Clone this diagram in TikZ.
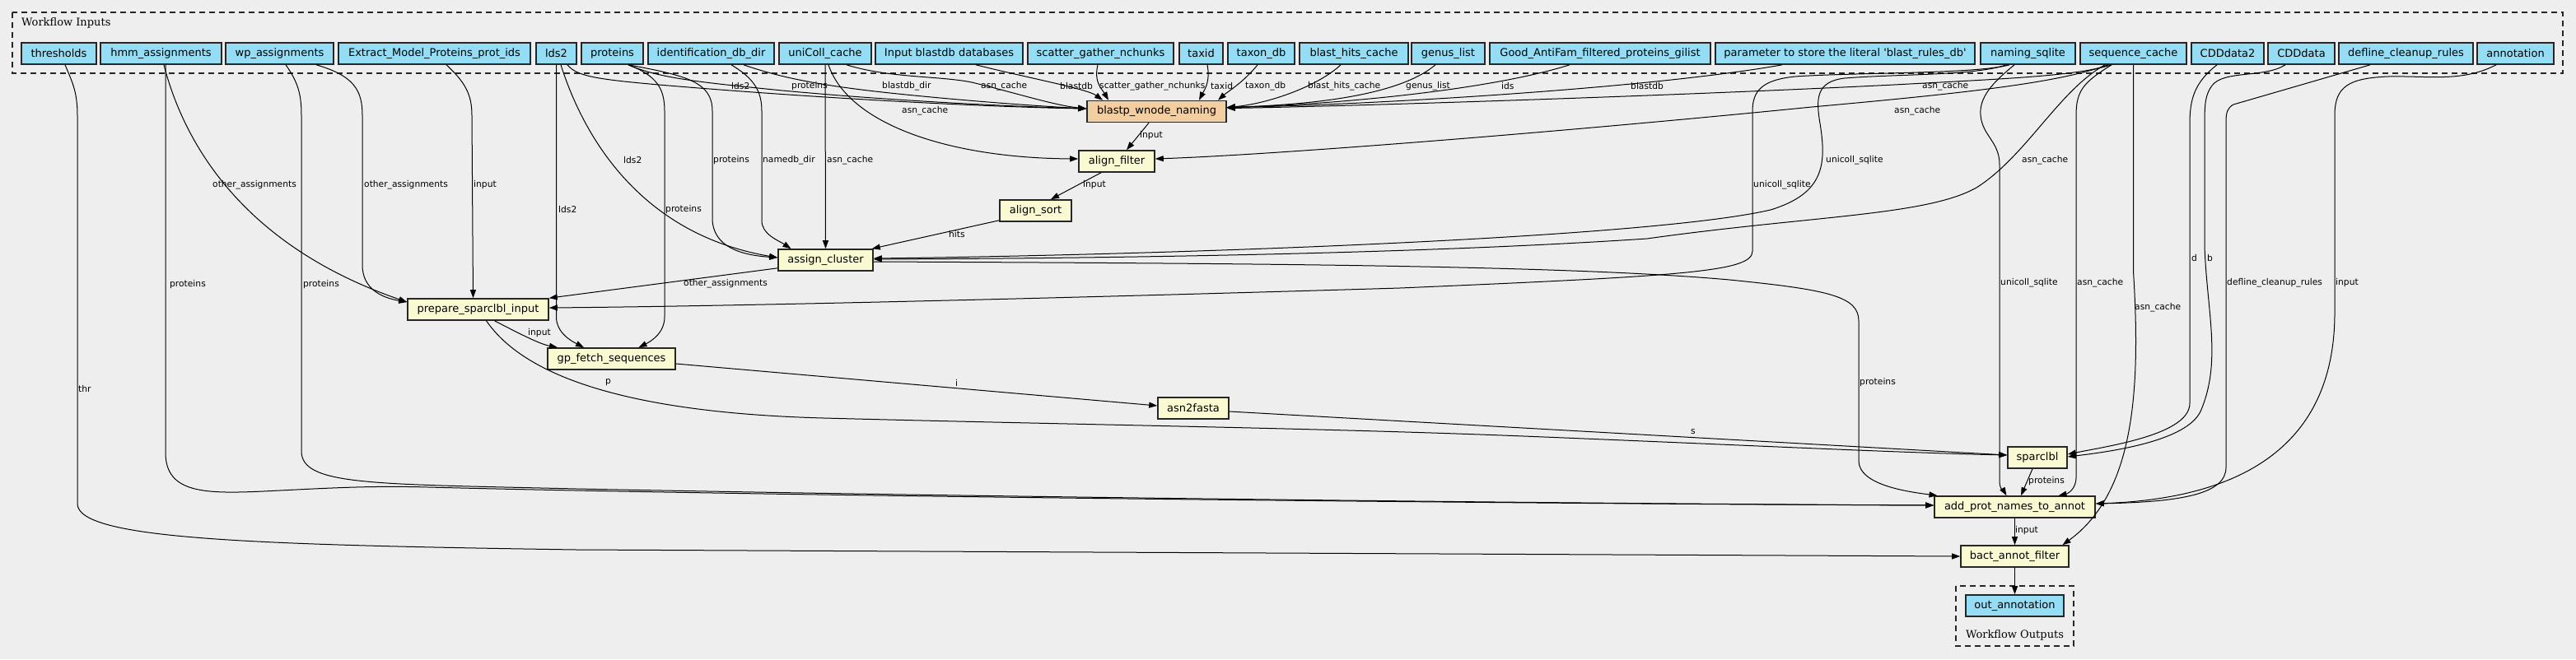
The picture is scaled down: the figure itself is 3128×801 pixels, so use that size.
\documentclass[tikz,border=0pt]{standalone}
\usepackage{fontspec}
\usetikzlibrary{arrows.meta}
\newfontfamily\nodefont{DejaVu Sans}
\newfontfamily\clfont{DejaVu Serif}
\definecolor{bgc}{HTML}{EEEEEE}
\definecolor{inpc}{HTML}{94DDF4}
\definecolor{stepc}{HTML}{FAFAD2}
\definecolor{subc}{HTML}{F3CEA1}
\tikzset{
 box/.style={draw=black!85, line width=1.6pt, minimum height=26pt, inner xsep=0pt, inner ysep=0pt, font=\nodefont\fontsize{13}{15}\selectfont, text=black},
 inp/.style={box, fill=inpc},
 stepbox/.style={box, fill=stepc},
 subbox/.style={box, fill=subc},
 edge/.style={line width=1pt, -{Triangle[length=10pt,width=7pt]}},
 lab/.style={anchor=west, inner sep=0pt, font=\nodefont\fontsize{10.7}{12}\selectfont},
 cluster/.style={draw=black!85, line width=1.3pt, dash pattern=on 7pt off 5pt},
 cltext/.style={font=\clfont\fontsize{13}{15}\selectfont, inner sep=0pt}
}
\begin{document}
\begin{tikzpicture}[x=1pt,y=-1pt]
\fill[bgc] (0,0) rectangle (3128,801);
\useasboundingbox (0,0) rectangle (3128,801);
% clusters
\draw[cluster] (15,15) rectangle (3112,89);
\node[cltext, anchor=west] (incl) at (26,28) {Workflow Inputs};
\draw[cluster] (2375,712) rectangle (2518,785);
\node[cltext] (outcl) at (2446.5,772) {Workflow Outputs};
% inputs
\node[inp, minimum width=91pt] (thresholds) at (71.5,65) {thresholds};
\node[inp, minimum width=147pt] (hmm) at (195.5,65) {hmm\_assignments};
\node[inp, minimum width=131pt] (wp) at (339.5,65) {wp\_assignments};
\node[inp, minimum width=233pt] (extract) at (527.5,65) {Extract\_Model\_Proteins\_prot\_ids};
\node[inp, minimum width=49pt] (lds2) at (675.5,65) {lds2};
\node[inp, minimum width=75pt] (proteins) at (743.5,65) {proteins};
\node[inp, minimum width=153pt] (ident) at (863.5,65) {identification\_db\_dir};
\node[inp, minimum width=112pt] (unicoll) at (1002,65) {uniColl\_cache};
\node[inp, minimum width=179pt] (inblast) at (1152.5,65) {Input blastdb databases};
\node[inp, minimum width=177pt] (scatter) at (1336.5,65) {scatter\_gather\_nchunks};
\node[inp, minimum width=53pt] (taxid) at (1458.5,65) {taxid};
\node[inp, minimum width=81pt] (taxondb) at (1531.5,65) {taxon\_db};
\node[inp, minimum width=132pt] (bhc) at (1644,65) {blast\_hits\_cache};
\node[inp, minimum width=89pt] (genus) at (1758.5,65) {genus\_list};
\node[inp, minimum width=268pt] (good) at (1943,65) {Good\_AntiFam\_filtered\_proteins\_gilist};
\node[inp, minimum width=315pt] (param) at (2240.5,65) {parameter to store the literal \textquotesingle blast\_rules\_db\textquotesingle};
\node[inp, minimum width=115pt] (naming) at (2462.5,65) {naming\_sqlite};
\node[inp, minimum width=129pt] (seq) at (2590.5,65) {sequence\_cache};
\node[inp, minimum width=88pt] (cdd2) at (2705,65) {CDDdata2};
\node[inp, minimum width=81pt] (cdd) at (2794.5,65) {CDDdata};
\node[inp, minimum width=163pt] (defline) at (2921.5,65) {defline\_cleanup\_rules};
\node[inp, minimum width=93pt] (annot) at (3054.5,65) {annotation};
% steps
\node[subbox, minimum width=169pt] (blastp) at (1404.5,135.5) {blastp\_wnode\_naming};
\node[stepbox, minimum width=92pt] (alignf) at (1356,196) {align\_filter};
\node[stepbox, minimum width=87pt] (aligns) at (1257.5,256) {align\_sort};
\node[stepbox, minimum width=115pt] (assign) at (1002.5,316) {assign\_cluster};
\node[stepbox, minimum width=171pt] (prepare) at (580.5,376) {prepare\_sparclbl\_input};
\node[stepbox, minimum width=155pt] (gp) at (742.5,436) {gp\_fetch\_sequences};
\node[stepbox, minimum width=86pt] (asn) at (1449,496) {asn2fasta};
\node[stepbox, minimum width=72pt] (sparclbl) at (2474,556) {sparclbl};
\node[stepbox, minimum width=195pt] (add) at (2446.5,616) {add\_prot\_names\_to\_annot};
\node[stepbox, minimum width=131pt] (bact) at (2446.5,676) {bact\_annot\_filter};
\node[inp, minimum width=119pt] (out) at (2446.5,736) {out\_annotation};
% edges
\draw[edge] ([xshift=7.5pt]thresholds.south) .. controls (88,100) and (94,112) .. (94,140) -- (94,612) .. controls (94,655) and (300,662) .. (700,668) -- (bact.west);
\draw[edge] ([xshift=3.5pt]hmm.south) .. controls (225,180) and (300,300) .. ([yshift=9pt]prepare.west);
\draw[edge] ([xshift=5.5pt]hmm.south) -- (201,550) .. controls (201,600) and (250,600) .. (320,597) .. controls (400,593) and (450,590) .. (520,592) .. controls (900,602) and (1800,612) .. ([yshift=2pt]add.west);
\draw[edge] ([xshift=44.5pt]wp.south) .. controls (430,92) and (440,110) .. (440,140) -- (440,322) .. controls (440,352) and (465,362) .. ([yshift=9pt]prepare.west);
\draw[edge] ([xshift=7.5pt]wp.south) .. controls (362,100) and (366,115) .. (366,140) -- (366,548) .. controls (366,590) and (450,588) .. (700,594) .. controls (1200,604) and (1900,612) .. ([yshift=2pt]add.west);
\draw[edge] ([xshift=14.5pt]extract.south) .. controls (565,100) and (573,115) .. (573,140) -- ([xshift=-6pt]prepare.north);
\draw[edge] ([xshift=13.5pt]lds2.south) .. controls (700,92) and (720,96) .. (800,103) .. controls (1000,120) and (1200,130) .. ([yshift=3.5pt]blastp.west);
\draw[edge] ([xshift=5.5pt]lds2.south) .. controls (710,170) and (780,285) .. ([yshift=3pt]assign.west);
\draw[edge] (lds2.south) -- (675.5,385) .. controls (675.5,405) and (695,415) .. ([xshift=-33.5pt]gp.north);
\draw[edge] ([xshift=19.5pt]proteins.south) .. controls (800,95) and (850,100) .. (950,110) .. controls (1100,124) and (1250,130) .. ([yshift=3.5pt]blastp.west);
\draw[edge] ([xshift=19.5pt]proteins.south) .. controls (835,92) and (865,100) .. (865,135) -- (865,265) .. controls (865,300) and (900,310) .. ([yshift=3pt]assign.west);
\draw[edge] ([xshift=19.5pt]proteins.south) .. controls (798,92) and (807,108) .. (807,135) -- (807,385) .. controls (807,405) and (790,415) .. ([xshift=33pt]gp.north);
\draw[edge] ([xshift=39.5pt]ident.south) .. controls (950,95) and (1000,105) .. (1100,115) .. controls (1200,125) and (1280,130) .. ([yshift=3.5pt]blastp.west);
\draw[edge] ([xshift=24.5pt]ident.south) .. controls (915,95) and (925,110) .. (925,135) -- (925,268) .. controls (925,285) and (945,292) .. ([xshift=-42pt]assign.north);
\draw[edge] ([xshift=26pt]unicoll.south) .. controls (1080,95) and (1140,92) .. (1180,100) .. controls (1230,112) and (1280,128) .. ([yshift=3.5pt]blastp.west);
\draw[edge] ([xshift=4pt]unicoll.south) .. controls (1030,150) and (1150,192) .. ([yshift=3pt]alignf.west);
\draw[edge] (unicoll.south) -- (assign.north);
\draw[edge] ([xshift=32.5pt]inblast.south) .. controls (1250,95) and (1320,108) .. ([xshift=-65.5pt]blastp.north);
\draw[edge] ([xshift=-3.5pt]scatter.south) .. controls (1328,100) and (1338,108) .. ([xshift=-58.5pt]blastp.north);
\draw[edge] ([xshift=7.5pt]taxid.south) .. controls (1470,100) and (1462,110) .. ([xshift=51.5pt]blastp.north);
\draw[edge] ([xshift=-4.5pt]taxondb.south) .. controls (1510,100) and (1490,112) .. ([xshift=74.5pt]blastp.north);
\draw[edge] ([xshift=-16pt]bhc.south) .. controls (1600,105) and (1540,126) .. ([yshift=5pt]blastp.east);
\draw[edge] ([xshift=-15.5pt]genus.south) .. controls (1700,115) and (1600,127) .. ([yshift=5pt]blastp.east);
\draw[edge] ([xshift=-37pt]good.south) .. controls (1800,112) and (1600,128) .. ([yshift=5pt]blastp.east);
\draw[edge] ([xshift=-76.5pt]param.south) .. controls (2000,108) and (1650,128) .. ([yshift=5pt]blastp.east);
\draw[edge] ([xshift=-26.5pt]seq.south) .. controls (2520,92) and (2450,95) .. (2300,103) .. controls (2000,118) and (1600,130) .. ([yshift=4pt]blastp.east);
\draw[edge] ([xshift=-30.5pt]seq.south) .. controls (2500,100) and (2400,112) .. (2200,130) .. controls (1900,160) and (1550,188) .. ([yshift=3pt]alignf.east);
\draw[edge] ([xshift=-34.5pt]seq.south) .. controls (2500,110) and (2460,190) .. (2400,228) .. controls (2340,262) and (2200,262) .. (2000,290) .. controls (1700,310) and (1300,314) .. ([yshift=1pt]assign.east);
\draw[edge] ([xshift=-26.5pt]seq.south) .. controls (2530,100) and (2521,110) .. (2521,140) -- (2521,580) .. controls (2521,595) and (2510,600) .. ([xshift=53pt]add.north);
\draw[edge] (seq.south) -- (2590.5,330) .. controls (2600,480) and (2590,600) .. ([xshift=58pt]bact.north);
\draw[edge] ([xshift=-26.5pt]naming.south) .. controls (2400,92) and (2300,90) .. (2240,95) .. controls (2205,99) and (2205,120) .. (2210,150) .. controls (2218,200) and (2215,235) .. (2150,255) .. controls (2000,290) and (1400,310) .. ([yshift=2pt]assign.east);
\draw[edge] ([xshift=-22.5pt]naming.south) .. controls (2400,90) and (2250,88) .. (2180,93) .. controls (2140,97) and (2128,110) .. (2128,135) -- (2128,305) .. controls (2128,330) and (2050,335) .. (1700,350) .. controls (1300,362) and (900,372) .. ([yshift=2pt]prepare.east);
\draw[edge] ([xshift=-16.5pt]naming.south) .. controls (2420,100) and (2403,118) .. (2405,140) .. controls (2407,165) and (2428,172) .. (2428,200) -- (2428,585) .. controls (2428,595) and (2434,598) .. ([xshift=-10pt]add.north);
\draw[edge] ([xshift=-13pt]cdd2.south) .. controls (2665,100) and (2659,120) .. (2659,150) -- (2659,490) .. controls (2659,528) and (2560,542) .. ([yshift=4pt]sparclbl.east);
\draw[edge] ([xshift=-19.5pt]cdd.south) .. controls (2750,95) and (2700,85) .. (2686,104) .. controls (2678,115) and (2677,125) .. (2677,150) -- (2677,300) .. controls (2680,380) and (2698,440) .. (2672,500) .. controls (2655,535) and (2570,548) .. ([yshift=1pt]sparclbl.east);
\draw[edge] ([xshift=-43.5pt]defline.south) -- (2712,127) .. controls (2705,131) and (2703,136) .. (2703,148) -- (2703,568) .. controls (2703,600) and (2650,610) .. ([yshift=4pt]add.east);
\draw[edge] ([xshift=-23.5pt]annot.south) .. controls (2990,100) and (2950,92) .. (2900,93) .. controls (2852,95) and (2835,105) .. (2835,140) -- (2835,380) .. controls (2835,520) and (2750,605) .. ([yshift=4pt]add.east);
\draw[edge] ([xshift=-9.5pt]blastp.south) -- ([xshift=12pt]alignf.north);
\draw[edge] ([xshift=-19pt]alignf.south) -- ([xshift=18.5pt]aligns.north);
\draw[edge] ([yshift=2pt]aligns.south west) -- ([xshift=-2pt]assign.north east);
\draw[edge] ([yshift=4pt]assign.south west) -- (prepare.north east);
\draw[edge] ([yshift=-2pt]assign.east) .. controls (1500,320) and (1900,322) .. (2100,340) .. controls (2220,352) and (2257,360) .. (2257,390) -- (2257,560) .. controls (2257,590) and (2320,598) .. ([xshift=-94pt]add.north);
\draw[edge] ([xshift=20pt]prepare.south) .. controls (630,405) and (655,418) .. ([xshift=-65.5pt]gp.north);
\draw[edge] ([xshift=10pt]prepare.south) .. controls (620,432) and (700,500) .. (1000,508) .. controls (1300,516) and (1600,520) .. (1850,530) .. controls (2100,540) and (2300,550) .. ([yshift=3pt]sparclbl.west);
\draw[edge] ([yshift=-6pt]gp.east) -- ([yshift=3pt]asn.west);
\draw[edge] ([yshift=-4pt]asn.east) -- ([yshift=3pt]sparclbl.west);
\draw[edge] ([xshift=-6pt]sparclbl.south) -- ([xshift=7.5pt]add.north);
\draw[edge] (add.south) -- (bact.north);
\draw[edge] (bact.south) -- (out.north);
% labels
\node[lab] (L1) at (95,472) {thr};
\node[lab] (L2) at (258,225) {other\_assignments};
\node[lab] (L3) at (206,346) {proteins};
\node[lab] (L4) at (442,225) {other\_assignments};
\node[lab] (L5) at (368,346) {proteins};
\node[lab] (L6) at (575,225) {input};
\node[lab] (L7) at (888,105) {lds2};
\node[lab] (L8) at (757,195) {lds2};
\node[lab] (L9) at (678,255) {lds2};
\node[lab] (L10) at (961,105) {proteins};
\node[lab] (L11) at (866,195) {proteins};
\node[lab] (L12) at (808,255) {proteins};
\node[lab] (L13) at (1071,105) {blastdb\_dir};
\node[lab] (L14) at (926,195) {namedb\_dir};
\node[lab] (L15) at (1191,105) {asn\_cache};
\node[lab] (L16) at (1095,135) {asn\_cache};
\node[lab] (L17) at (1004,195) {asn\_cache};
\node[lab] (L18) at (1287,105) {blastdb};
\node[lab] (L19) at (1335,105) {scatter\_gather\_nchunks};
\node[lab] (L20) at (1470,105) {taxid};
\node[lab] (L21) at (1512,105) {taxon\_db};
\node[lab] (L22) at (1588,105) {blast\_hits\_cache};
\node[lab] (L23) at (1707,105) {genus\_list};
\node[lab] (L24) at (1823,105) {ids};
\node[lab] (L25) at (1980,105) {blastdb};
\node[lab] (L26) at (2334,105) {asn\_cache};
\node[lab] (L27) at (2300,135) {asn\_cache};
\node[lab] (L28) at (2455,195) {asn\_cache};
\node[lab] (L29) at (2522,344) {asn\_cache};
\node[lab] (L30) at (2592,374) {asn\_cache};
\node[lab] (L31) at (2217,195) {unicoll\_sqlite};
\node[lab] (L32) at (2129,225) {unicoll\_sqlite};
\node[lab] (L33) at (2429,344) {unicoll\_sqlite};
\node[lab] (L34) at (2661,314) {d};
\node[lab] (L35) at (2680,314) {b};
\node[lab] (L36) at (2704,344) {defline\_cleanup\_rules};
\node[lab] (L37) at (2836,344) {input};
\node[lab] (L38) at (1384,165) {input};
\node[lab] (L39) at (1315,225) {input};
\node[lab] (L40) at (1152,285) {hits};
\node[lab] (L41) at (830,345) {other\_assignments};
\node[lab] (L42) at (2258,465) {proteins};
\node[lab] (L43) at (641,405) {input};
\node[lab] (L44) at (735,465) {p};
\node[lab] (L45) at (1160,465) {i};
\node[lab] (L46) at (2053,525) {s};
\node[lab] (L47) at (2463,585) {proteins};
\node[lab] (L48) at (2447,645) {input};
\end{tikzpicture}
\end{document}
